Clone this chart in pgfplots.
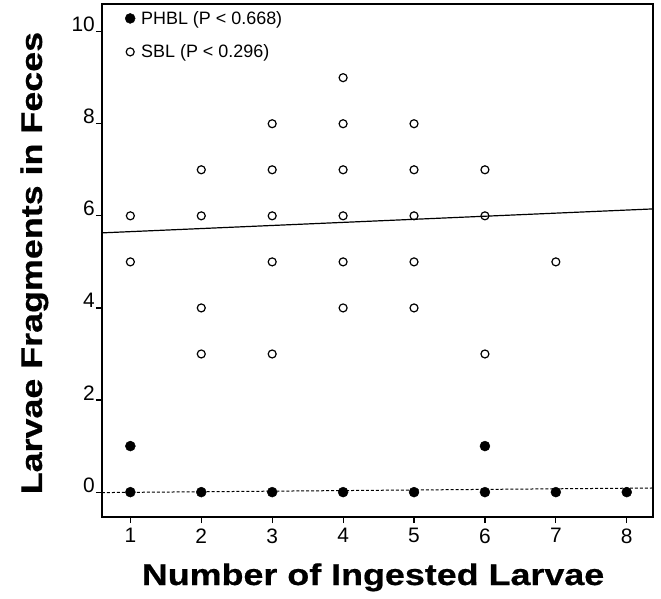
\documentclass[border=0pt]{standalone}
\usepackage{fontspec}
\setmainfont{Liberation Sans}
\newfontfamily\labfont[FakeStretch=1.2,FakeBold=0.6]{Liberation Sans}
\usepackage{pgfplots}
\pgfplotsset{compat=1.18}

\begin{document}
\begin{tikzpicture}
\begin{axis}[
name=ax,
scale only axis,
width=551bp, height=513bp,
xmin=0.6, xmax=8.37,
ymin=-0.54, ymax=10.6,
xtick={1,...,8},
ytick={0,2,...,10},
xtick pos=bottom, ytick pos=left,
tick align=outside,
major tick length=6bp,
tick style={line width=1.2bp, black},
axis line style={line width=1.6bp},
/pgf/number format/assume math mode=true,
tick label style={font=\fontsize{21}{23}\selectfont},
yticklabel style={anchor=base east, inner sep=0pt, xshift=-1bp},
xticklabel style={yshift=-2bp},
xlabel={\labfont\bfseries Number of Ingested Larvae},
ylabel={\labfont\bfseries Larvae Fragments in Feces},
label style={font=\fontsize{30}{32}\selectfont},
xlabel style={at={(axis description cs:0.492,0)}, anchor=base, yshift=-68bp},
ylabel style={at={(axis description cs:-0.109,0.495)}, anchor=base},
legend style={draw=none, fill=none, at={(0.0,1.0)}, anchor=north west,
  font=\fontsize{18}{20}\selectfont, row sep=15bp, xshift=20bp, yshift=-3bp,
  /tikz/every odd column/.append style={column sep=4bp}},
legend cell align=left,
]
\addplot[only marks, mark=*, mark size=5bp, black] coordinates {
(1,1) (1,0) (2,0) (3,0) (4,0) (5,0) (6,1) (6,0) (7,0) (8,0)};
\addlegendentry{PHBL (P < 0.668)}
\addplot[only marks, mark=o, mark size=4bp, black, mark options={line width=1.2bp}] coordinates {
(1,6) (1,5)
(2,7) (2,6) (2,4) (2,3)
(3,8) (3,7) (3,6) (3,5) (3,3)
(4,9) (4,8) (4,7) (4,6) (4,5) (4,4)
(5,8) (5,7) (5,6) (5,5) (5,4)
(6,7) (6,6) (6,3)
(7,5)};
\addlegendentry{SBL (P < 0.296)}
\addplot[black, line width=1.2bp, forget plot] coordinates {(0.6,5.63) (8.37,6.15)};
\addplot[black, line width=1bp, densely dashed, forget plot] coordinates {(0.6,-0.01) (8.37,0.09)};
\end{axis}
\pgfresetboundingbox
\path[use as bounding box] ([shift={(-102bp,-82bp)}]ax.south west) rectangle ([shift={(8bp,4bp)}]ax.north east);
\end{tikzpicture}
\end{document}
